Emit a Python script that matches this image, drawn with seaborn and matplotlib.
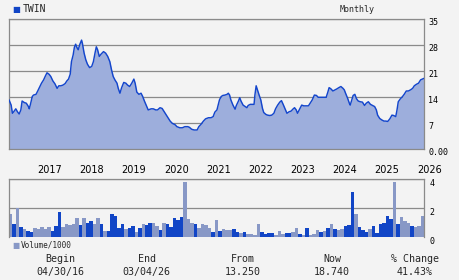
import matplotlib
matplotlib.use("Agg")
import matplotlib.pyplot as plt
import numpy as np
import pandas as pd
import seaborn as sns
from matplotlib.transforms import ScaledTranslation

# ---------------- data ----------------
price_year = [
    2016.33, 2016.38, 2016.41, 2016.44, 2016.49, 2016.53, 2016.57, 2016.61, 2016.64, 2016.69,
    2016.74, 2016.79, 2016.81, 2016.85, 2016.88, 2016.91, 2016.97, 2017.01, 2017.06, 2017.10,
    2017.15, 2017.19, 2017.23, 2017.28, 2017.32, 2017.37, 2017.42, 2017.47, 2017.51, 2017.56,
    2017.61, 2017.66, 2017.70, 2017.74, 2017.78, 2017.81, 2017.85, 2017.88, 2017.91, 2017.94,
    2017.97, 2018.01, 2018.05, 2018.07, 2018.11, 2018.15, 2018.19, 2018.24, 2018.29, 2018.33,
    2018.37, 2018.40, 2018.43, 2018.47, 2018.51, 2018.57, 2018.62, 2018.67, 2018.72, 2018.76,
    2018.80, 2018.84, 2018.89, 2018.92, 2018.96, 2019.00, 2019.05, 2019.10, 2019.14, 2019.19,
    2019.24, 2019.29, 2019.32, 2019.36, 2019.41, 2019.46, 2019.50, 2019.54, 2019.58, 2019.60,
    2019.63, 2019.70, 2019.75, 2019.81, 2019.85, 2019.91, 2019.96, 2020.01, 2020.06, 2020.11,
    2020.15, 2020.20, 2020.27, 2020.31, 2020.38, 2020.44, 2020.50, 2020.57, 2020.61, 2020.66,
    2020.72, 2020.79, 2020.83, 2020.88, 2020.94, 2020.99, 2021.06, 2021.12, 2021.17, 2021.21,
    2021.26, 2021.29, 2021.32, 2021.36, 2021.40, 2021.45, 2021.50, 2021.53, 2021.56, 2021.59,
    2021.64, 2021.69, 2021.72, 2021.77, 2021.80, 2021.83, 2021.88, 2021.93, 2021.97, 2022.00,
    2022.05, 2022.10, 2022.14, 2022.16, 2022.19, 2022.22, 2022.26, 2022.30, 2022.34, 2022.37,
    2022.42, 2022.46, 2022.51, 2022.56, 2022.61, 2022.65, 2022.70, 2022.75, 2022.79, 2022.83,
    2022.87, 2022.92, 2022.97, 2023.02, 2023.06, 2023.10, 2023.14, 2023.17, 2023.22, 2023.27,
    2023.32, 2023.36, 2023.43, 2023.47, 2023.52, 2023.57, 2023.62, 2023.66, 2023.73, 2023.79,
    2023.85, 2023.89, 2023.92, 2023.96, 2024.01, 2024.06, 2024.11, 2024.15, 2024.20, 2024.25,
    2024.28, 2024.31, 2024.36, 2024.40, 2024.42, 2024.45, 2024.49, 2024.53, 2024.57, 2024.61,
    2024.66, 2024.71, 2024.76, 2024.80, 2024.85, 2024.90, 2024.95, 2025.00, 2025.04, 2025.07,
    2025.12, 2025.17, 2025.22, 2025.26, 2025.31, 2025.36, 2025.41, 2025.45, 2025.50, 2025.53,
    2025.56, 2025.61, 2025.66, 2025.70, 2025.75, 2025.80, 2025.85, 2025.90, 2025.94, 2025.99,
    2026.04, 2026.09, 2026.13, 2026.17,
]
price_value = [
    13.3, 11.9, 9.7, 10.1, 10.9, 10.1, 9.5, 10.6, 13.0, 12.6,
    12.4, 11.5, 10.9, 12.7, 14.2, 14.6, 14.8, 15.7, 16.9, 17.8,
    18.7, 19.7, 20.6, 20.2, 19.6, 18.4, 17.6, 16.4, 17.1, 17.1,
    17.3, 17.7, 18.4, 18.9, 20.2, 23.6, 25.4, 27.5, 28.3, 27.4,
    26.8, 28.3, 29.4, 28.5, 25.9, 24.1, 22.9, 22.0, 22.3, 23.6,
    26.0, 27.6, 26.8, 25.0, 25.6, 26.3, 25.9, 25.0, 23.6, 21.4,
    19.6, 18.7, 17.8, 16.4, 15.1, 16.6, 18.0, 17.8, 17.3, 16.9,
    17.8, 18.9, 17.8, 15.4, 14.8, 15.1, 14.2, 13.0, 11.9, 11.3,
    10.6, 10.9, 10.9, 10.6, 10.6, 11.2, 11.0, 10.1, 9.2, 8.3,
    7.6, 7.0, 6.6, 6.1, 5.8, 5.8, 6.1, 6.1, 5.9, 5.4,
    5.2, 5.2, 6.1, 6.7, 7.6, 8.2, 8.5, 8.5, 8.8, 10.0,
    10.6, 11.9, 13.3, 14.2, 14.5, 14.6, 14.8, 15.1, 14.6, 13.3,
    11.9, 10.8, 11.8, 13.0, 13.9, 13.0, 11.9, 11.5, 11.2, 11.8,
    12.1, 12.1, 12.1, 14.6, 17.1, 16.0, 14.6, 13.3, 11.0, 9.9,
    9.4, 9.2, 9.1, 9.2, 9.7, 10.9, 11.9, 12.7, 13.1, 12.1,
    11.0, 9.7, 10.1, 10.3, 10.8, 11.2, 10.6, 9.7, 10.8, 11.9,
    11.7, 11.7, 11.7, 12.4, 13.3, 14.6, 14.5, 14.0, 14.0, 14.0,
    14.0, 15.4, 16.6, 16.3, 15.7, 16.0, 16.3, 16.6, 16.9, 16.4,
    16.0, 15.1, 13.7, 12.4, 11.9, 13.0, 14.5, 14.8, 13.6, 13.0,
    12.8, 12.7, 11.8, 12.4, 12.8, 12.1, 11.8, 11.5, 10.6, 9.2,
    8.3, 7.9, 7.6, 7.6, 7.5, 8.2, 9.2, 9.1, 8.8, 10.6,
    12.8, 13.6, 14.2, 14.8, 15.7, 15.7, 16.0, 16.4, 17.1, 17.5,
    17.8, 18.7, 18.9, 19.1,
]

# monthly volume (thousands), May 2016 .. Mar 2026
volume = [
    1.64, 0.95, 2.00, 0.68, 0.55, 0.41, 0.34, 0.61, 0.57, 0.68,
    0.57, 0.68, 0.41, 0.75, 1.77, 0.68, 0.89, 0.84, 0.89, 1.30,
    0.82, 1.30, 1.02, 1.09, 0.89, 1.30, 0.89, 0.41, 0.41, 1.64,
    1.50, 0.61, 0.89, 0.55, 0.61, 0.75, 0.34, 0.61, 0.89, 0.82,
    1.02, 1.02, 0.75, 0.48, 1.02, 0.89, 0.68, 1.36, 1.16, 1.43,
    3.82, 1.23, 1.02, 0.95, 0.61, 0.89, 0.82, 0.61, 0.34, 1.16,
    0.41, 0.55, 0.48, 0.48, 0.55, 0.34, 0.27, 0.34, 0.20, 0.20,
    0.14, 0.95, 0.34, 0.20, 0.27, 0.27, 0.14, 0.41, 0.20, 0.27,
    0.27, 0.34, 0.61, 0.20, 0.14, 0.61, 0.14, 0.20, 0.48, 0.34,
    0.41, 0.61, 0.89, 0.55, 0.48, 0.55, 0.75, 0.82, 3.14, 1.64,
    0.68, 0.48, 0.34, 0.55, 0.75, 0.27, 0.89, 1.02, 1.50, 1.23,
    3.82, 0.89, 1.43, 1.09, 1.02, 0.75, 0.68, 0.75, 1.50,
]
vol_kind = list(
    "LDLDLDDLLL" "LLDDDLLLLL" "DLDDLLDLDD" "DDDLDDLDLD"
    "DLLDLDDDDD" "LLLDLLLLDL" "DLLLDDLDLL" "LLDDDDLLLD"
    "DLLDLDLLLD" "LDLDLLDDDL" "DDDLDDDDDD" "LDLLLDLLL"
)
month_idx = list(range(len(volume)))

year_ticks = list(range(2017, 2027))
price_ticks = [0, 7, 14, 21, 28, 35]
price_tick_labels = ["0.00", "7", "14", "21", "28", "35"]
vol_ticks = [0, 2, 4]
vol_tick_labels = ["0", "2", "4"]

symbol = "TWIN"
footer_heads = ["Begin", "End", "From", "Now", "% Change"]
footer_vals = ["04/30/16", "03/04/26", "13.250", "18.740", "41.43%"]

# ---------------- style ----------------
BG = "#f3f3f3"
LINE = "#1446cc"
FILL = "#9daedc"
DARK = "#1145c6"
LIGHT = "#8898c6"
GRID = "#8a8a8a"

sns.set_theme(style="white")
plt.rcParams["font.family"] = ["DejaVu Sans Mono", "DejaVu Sans"]

W, H = 460, 280
fig = plt.figure(figsize=(W / 100, H / 100), dpi=100, facecolor=BG)

def fy(py):
    return 1 - py / H

ax = fig.add_axes([9 / W, fy(149.3), 415 / W, 130 / H], facecolor=BG)
axv = fig.add_axes([9 / W, fy(237.3), 415 / W, 58 / H], facecolor=BG)

# ---------------- price panel ----------------
df = pd.DataFrame({"year": price_year, "price": price_value})
ax.fill_between(df["year"], 0, df["price"], color=FILL, lw=0, zorder=2)
sns.lineplot(data=df, x="year", y="price", ax=ax, color=LINE, lw=1.05, zorder=3)
ax.set_xlim(2016.329, 2026.17)
ax.set_ylim(0, 35)
ax.set_xlabel("")
ax.set_ylabel("")
ax.yaxis.tick_right()
ax.set_yticks(price_ticks)
ax.set_yticklabels(price_tick_labels, fontsize=6)
ax.set_xticks(year_ticks)
ax.set_xticklabels([str(y) for y in year_ticks], fontsize=7,
                   family=["DejaVu Sans"], ha="left")
ax.tick_params(axis="x", length=0, pad=11.5, colors="#000000")
ax.tick_params(axis="y", length=0, pad=3, colors="#000000")
ax.grid(axis="y", color=GRID, lw=0.9, zorder=1)
ax.grid(axis="x", visible=False)
ax.set_axisbelow(True)
for s in ax.spines.values():
    s.set_color(GRID)
    s.set_linewidth(0.9)
off = ScaledTranslation(0, -1.5 / 72, fig.dpi_scale_trans)
for lbl in ax.get_yticklabels():
    lbl.set_transform(lbl.get_transform() + off)

# ---------------- volume panel ----------------
dv = pd.DataFrame({"m": month_idx, "vol": volume, "kind": vol_kind})
sns.barplot(data=dv, x="m", y="vol", hue="kind",
            palette={"D": DARK, "L": LIGHT}, dodge=False, width=1.0,
            saturation=1, linewidth=0, legend=False, ax=axv, zorder=2)
axv.set_xlim(-0.5, len(volume) - 0.5)
axv.set_ylim(0, 4)
axv.set_xticks([])
axv.set_xlabel("")
axv.set_ylabel("")
axv.yaxis.tick_right()
axv.set_yticks(vol_ticks)
axv.set_yticklabels(vol_tick_labels, fontsize=6)
axv.tick_params(axis="y", length=0, pad=4, colors="#000000")
axv.grid(axis="y", color=GRID, lw=0.9, zorder=1)
axv.set_axisbelow(True)
for k, s in axv.spines.items():
    s.set_color(GRID)
    s.set_linewidth(0.9)
axv.spines["bottom"].set_visible(False)
off2 = ScaledTranslation(0, -2 / 72, fig.dpi_scale_trans)
for lbl in axv.get_yticklabels():
    lbl.set_transform(lbl.get_transform() + off2)

# ---------------- texts ----------------
fig.text(12.5 / W, fy(9.5), "\u25A0", color=DARK, fontsize=6,
         family=["DejaVu Sans"], va="center", ha="left")
fig.text(22.5 / W, fy(9.3), symbol, fontsize=7, va="center", ha="left")
fig.text(357 / W, fy(9.3), "Monthly", fontsize=6, va="center", ha="center")
fig.text(12.5 / W, fy(245.3), "\u25A0", color=LIGHT, fontsize=5.5,
         family=["DejaVu Sans"], va="center", ha="left")
fig.text(20.5 / W, fy(245.3), "Volume/1000", fontsize=5.6, va="center", ha="left")

cols = [60.7, 146.7, 243, 332, 415]
for cx, h, v in zip(cols, footer_heads, footer_vals):
    fig.text(cx / W, fy(259.3), h, fontsize=7.2, va="center", ha="center")
    fig.text(cx / W, fy(272.3), v, fontsize=7.2, va="center", ha="center")

fig.savefig("out.png", dpi=100, facecolor=BG)
